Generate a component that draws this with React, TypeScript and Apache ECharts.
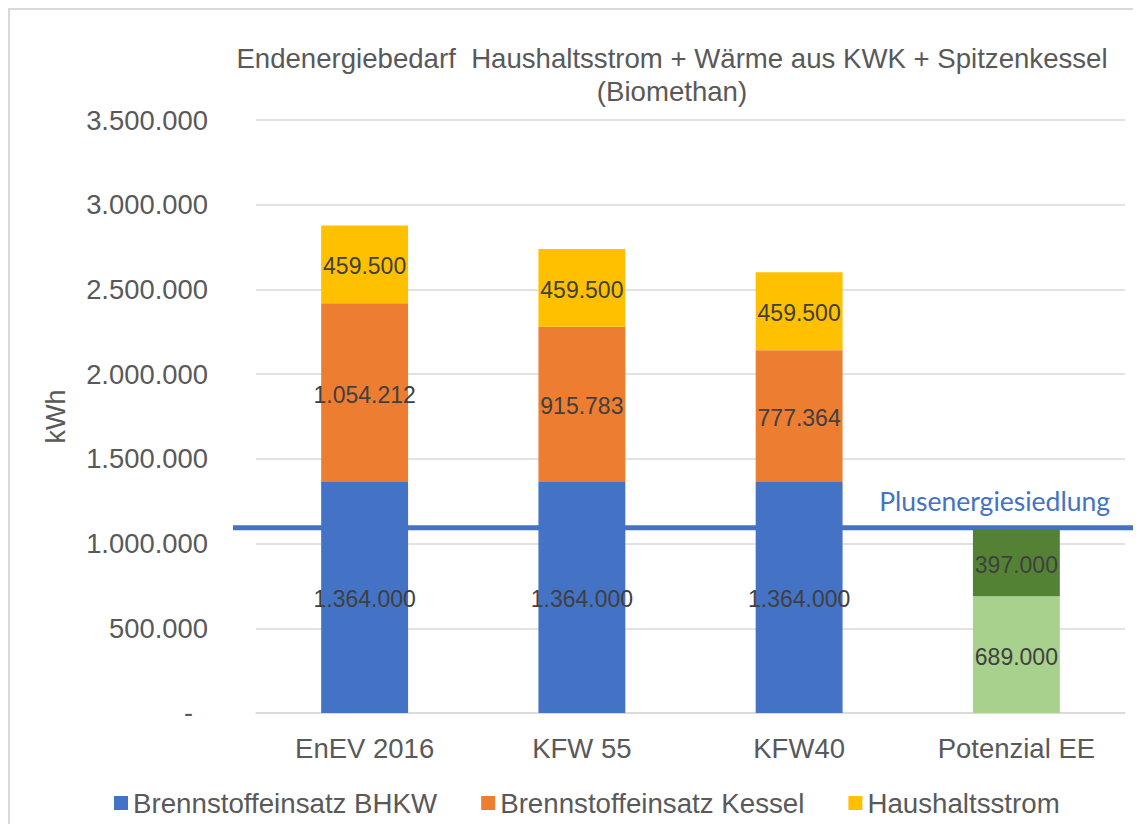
import React, { useEffect, useRef } from "react";
import * as echarts from "echarts";

const categories = ["EnEV 2016", "KFW 55", "KFW40", "Potenzial EE"];
const bhkw = [1364000, 1364000, 1364000, null];
const kessel = [1054212, 915783, 777364, null];
const haushalt = [459500, 459500, 459500, null];
const eeLight = [null, null, null, 689000];
const eeDark = [null, null, null, 397000];
const yMin = 0;
const yMax = 3500000;
const yInterval = 500000;
const plusLevel = 1100000;
const plusLabel = "Plusenergiesiedlung";
const titleText = "Endenergiebedarf  Haushaltsstrom + Wärme aus KWK + Spitzenkessel\n(Biomethan)";
const yName = "kWh";
const legendNames = ["Brennstoffeinsatz BHKW", "Brennstoffeinsatz Kessel", "Haushaltsstrom"];

const FONT = "'Liberation Sans', Arial, sans-serif";
const GRAY = "#595959";
const LABEL = "#404040";

function fmt(v: number): string {
  const s = Math.round(v).toString();
  return s.replace(/\B(?=(\d{3})+(?!\d))/g, ".");
}

export default function App() {
  const ref = useRef<HTMLDivElement>(null);
  useEffect(() => {
    if (!ref.current) return;
    const chart = echarts.init(ref.current, null, { renderer: "svg" });
    const dataLabel = {
      show: true,
      position: "inside",
      offset: [0, 2],
      color: LABEL,
      fontSize: 23,
      fontFamily: FONT,
      formatter: (p: any) => fmt(p.value),
    };
    const mk = (name: string, data: any[], color: string) => ({
      name,
      type: "bar",
      stack: "total",
      data,
      barWidth: "40%",
      itemStyle: { color },
      label: dataLabel,
      emphasis: { disabled: true },
    });
    chart.setOption({
      animation: false,
      textStyle: { fontFamily: FONT },
      title: {
        text: titleText,
        left: "center",
        top: 27,
        textStyle: {
          fontFamily: FONT,
          fontSize: 27.6,
          fontWeight: "normal",
          color: GRAY,
          lineHeight: 33,
        },
      },
      legend: {
        data: legendNames,
        left: 99,
        top: 774,
        icon: "rect",
        itemWidth: 14,
        itemHeight: 14,
        itemGap: 44,
        textStyle: { fontSize: 27.7, color: GRAY, fontFamily: FONT },
        selectedMode: false,
      },
      grid: { left: 246, right: 209, top: 110, bottom: 111, containLabel: false },
      xAxis: {
        type: "category",
        data: categories,
        axisLine: { show: true, lineStyle: { color: "#d9d9d9", width: 1.5 } },
        axisTick: { show: false },
        axisLabel: { fontSize: 27.5, color: GRAY, fontFamily: FONT, margin: 21 },
      },
      yAxis: {
        type: "value",
        min: yMin,
        max: yMax,
        interval: yInterval,
        name: yName,
        nameLocation: "middle",
        nameGap: 187,
        nameRotate: 90,
        nameTextStyle: { fontSize: 27, color: GRAY, fontFamily: FONT },
        axisLine: { show: false },
        axisTick: { show: false },
        splitLine: { lineStyle: { color: "#d9d9d9", width: 1.5 } },
        axisLabel: {
          fontSize: 27.4,
          color: GRAY,
          fontFamily: FONT,
          margin: 48,
          formatter: (v: number) => (v === 0 ? "{z|-}" : fmt(v)),
          rich: {
            z: { fontSize: 27, color: GRAY, fontFamily: FONT, padding: [0, 15, 0, 0] },
          },
        },
      },
      series: [
        mk(legendNames[0], bhkw, "#4472C4"),
        mk(legendNames[1], kessel, "#ED7D31"),
        mk(legendNames[2], haushalt, "#FFC000"),
        mk("Potenzial EE (Bestand)", eeLight, "#A9D18E"),
        mk("Potenzial EE (Zusatz)", eeDark, "#548235"),
      ],
    });
    const y = chart.convertToPixel({ yAxisIndex: 0 }, plusLevel) as number;
    chart.setOption({
      graphic: [
        {
          type: "line",
          z: 1,
          shape: { x1: 223, y1: y + 1, x2: 1127, y2: y + 1 },
          style: { stroke: "#4472C4", lineWidth: 5 },
          silent: true,
        },
        {
          type: "text",
          z: 1,
          x: 1100,
          y: y - 26,
          style: {
            text: plusLabel,
            fill: "#4472C4",
            font: "26.5px Lato, 'Open Sans', sans-serif",
            align: "right",
            verticalAlign: "middle",
          },
          silent: true,
        },
      ],
    });
    return () => chart.dispose();
  }, []);
  return (
    <div
      style={{
        width: 1133,
        height: 816,
        overflow: "hidden",
        boxSizing: "border-box",
        borderLeft: "2px solid #d9d9d9",
        borderTop: "2px solid #d9d9d9",
        background: "#fff",
      }}
    >
      <div ref={ref} style={{ width: 1324, height: 814 }} />
    </div>
  );
}
